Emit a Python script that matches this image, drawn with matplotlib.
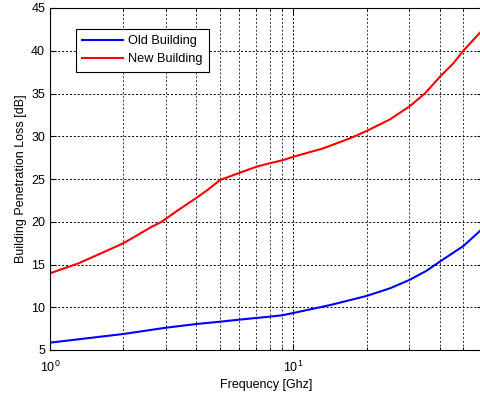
import numpy as np
import matplotlib
matplotlib.use("Agg")
import matplotlib.pyplot as plt
from matplotlib.ticker import LogLocator, NullFormatter

plt.rcParams['font.family'] = ['Liberation Sans', 'DejaVu Sans']

# Building penetration loss vs frequency (GHz)
freq_old = [1, 2, 3, 4, 5, 6, 7, 8, 9, 10, 14.2, 20, 25, 30, 35.3, 40, 50, 60]
loss_old = [5.86, 6.87, 7.61, 8.04, 8.31, 8.55, 8.74, 8.9, 9.06, 9.33,
            10.26, 11.32, 12.22, 13.19, 14.27, 15.33, 17.16, 19.2]

freq_new = [1, 1.31, 1.74, 2, 2.17, 2.62, 2.88, 3.3, 4, 4.41, 5, 5.94, 7.07, 8,
            9.1, 10, 13.3, 17.1, 20, 25, 30.2, 34.8, 40.1, 45.5, 50, 60]
loss_new = [13.97, 15.14, 16.7, 17.48, 18.06, 19.42, 20.0, 21.2, 22.8, 23.65,
            24.88, 25.67, 26.44, 26.84, 27.22, 27.6, 28.59, 29.76, 30.61,
            31.98, 33.54, 35.02, 36.97, 38.53, 40.0, 42.45]

fig = plt.figure(figsize=(4.81, 3.96), dpi=100)
ax = fig.add_axes([50 / 481, 1 - 350 / 396, 432.6 / 481, 342 / 396])

ax.semilogx(freq_old, loss_old, color='#0000ff', lw=1.5, label='Old Building')
ax.semilogx(freq_new, loss_new, color='#ff0000', lw=1.5, label='New Building')

ax.set_xlim(1, 60)
ax.set_ylim(5, 45)
ax.set_yticks(np.arange(5, 46, 5))
ax.xaxis.set_major_locator(LogLocator(base=10, numticks=5))
ax.xaxis.set_minor_locator(LogLocator(base=10, subs=np.arange(2, 10), numticks=20))
ax.xaxis.set_minor_formatter(NullFormatter())

ax.grid(True, which='major', color='black', linestyle=(0, (2, 2)), lw=0.7)
ax.grid(True, which='minor', axis='x', color='#333333', linestyle=(0, (2, 2)), lw=0.7)

ax.tick_params(which='both', direction='in', top=True, right=True, labelsize=9)
ax.tick_params(which='major', length=4)
ax.tick_params(which='minor', length=2)
ax.tick_params(axis='x', which='major', pad=7)
for s in ax.spines.values():
    s.set_linewidth(0.8)

ax.set_xlabel('Frequency [Ghz]', fontsize=9, labelpad=3)
ax.set_ylabel('Building Penetration Loss [dB]', fontsize=9, labelpad=3)

leg = ax.legend(loc='upper left', bbox_to_anchor=(76 / 481, 1 - 29 / 396),
                bbox_transform=fig.transFigure, borderaxespad=0, fontsize=9.2,
                fancybox=False, framealpha=1, edgecolor='black',
                handlelength=3.2, handletextpad=0.4, labelspacing=0.45,
                borderpad=0.5)
leg.get_frame().set_linewidth(0.8)

fig.savefig('out.png', dpi=100)
